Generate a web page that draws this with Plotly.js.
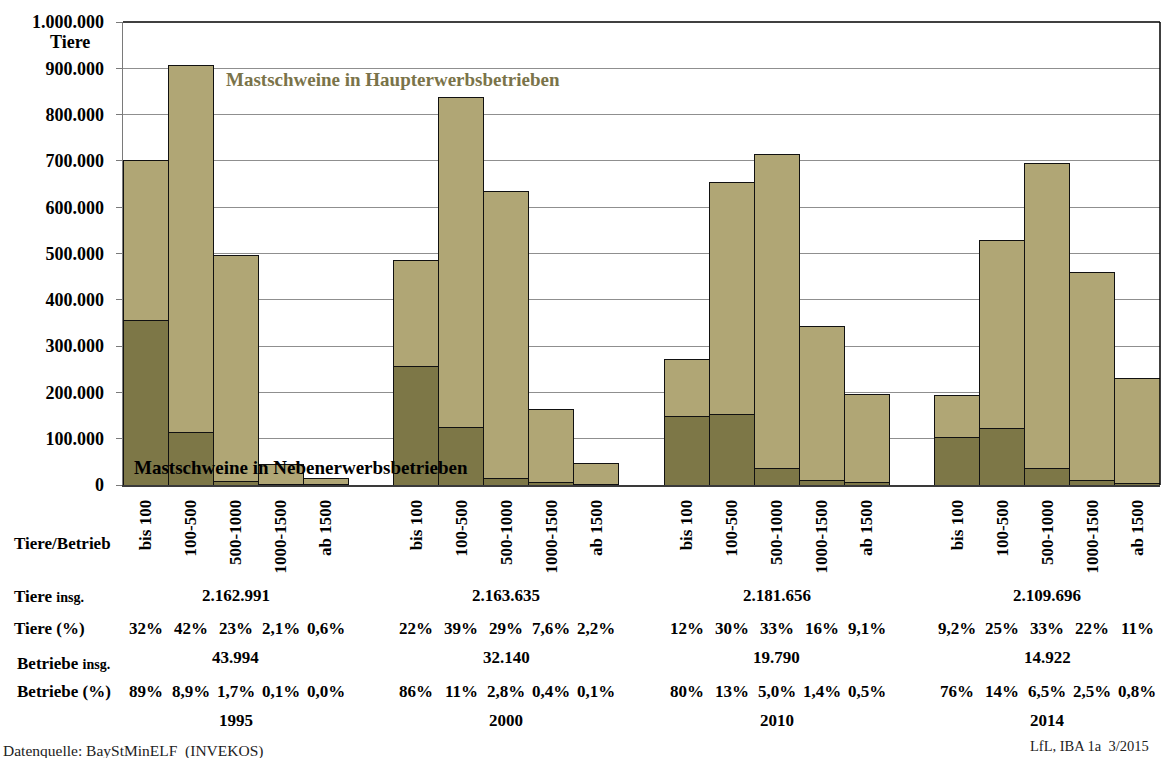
<!DOCTYPE html>
<html>
<head>
<meta charset="utf-8">
<script src="https://cdn.plot.ly/plotly-3.0.1.min.js"></script>
<style>
html,body{margin:0;padding:0;background:#fff;}
#chart{width:1164px;height:758px;}
</style>
</head>
<body>
<div id="chart"></div>
<script>
// ---- data ----
const years = ['1995', '2000', '2010', '2014'];
const categories = ['bis 100', '100-500', '500-1000', '1000-1500', 'ab 1500'];
// Mastschweine in Nebenerwerbsbetrieben (dark, bottom)
const neben1995 = [356000, 113000, 8600, 1000, 300];
const neben2000 = [257000, 124000, 13600, 5800, 1500];
const neben2010 = [147000, 153000, 36700, 10800, 5000];
const neben2014 = [102000, 123000, 36700, 10800, 2800];
// Mastschweine in Haupterwerbsbetrieben (light, top)
const haupt1995 = [344000, 793000, 487400, 44000, 13300];
const haupt2000 = [227000, 714000, 619400, 156200, 46000];
const haupt2010 = [123000, 501000, 676300, 332200, 191500];
const haupt2014 = [91700, 406000, 658300, 447800, 228200];
// table below chart
const tiereInsg = ['2.162.991', '2.163.635', '2.181.656', '2.109.696'];
const tierePct1995 = ['32%', '42%', '23%', '2,1%', '0,6%'];
const tierePct2000 = ['22%', '39%', '29%', '7,6%', '2,2%'];
const tierePct2010 = ['12%', '30%', '33%', '16%', '9,1%'];
const tierePct2014 = ['9,2%', '25%', '33%', '22%', '11%'];
const betriebeInsg = ['43.994', '32.140', '19.790', '14.922'];
const betriebePct1995 = ['89%', '8,9%', '1,7%', '0,1%', '0,0%'];
const betriebePct2000 = ['86%', '11%', '2,8%', '0,4%', '0,1%'];
const betriebePct2010 = ['80%', '13%', '5,0%', '1,4%', '0,5%'];
const betriebePct2014 = ['76%', '14%', '6,5%', '2,5%', '0,8%'];

const nebenAll = [neben1995, neben2000, neben2010, neben2014];
const hauptAll = [haupt1995, haupt2000, haupt2010, haupt2014];
const tierePctAll = [tierePct1995, tierePct2000, tierePct2010, tierePct2014];
const betriebePctAll = [betriebePct1995, betriebePct2000, betriebePct2010, betriebePct2014];

// ---- layout helpers ----
const W = 1164, H = 758;
const ML = 123, MR = 4, MT = 22, MB = 273;
const PW = W - ML - MR, PH = H - MT - MB;
const px = x => (x - ML) / PW;
const py = y => (H - MB - y) / PH;
const FONT = 'Liberation Serif, Times New Roman, serif';

const xs = [], yNeben = [], yHaupt = [], tickvals = [], ticktext = [];
years.forEach((yr, g) => {
  categories.forEach((c, i) => {
    const x = g * 6 + i;
    xs.push(x);
    yNeben.push(nebenAll[g][i]);
    yHaupt.push(hauptAll[g][i]);
    tickvals.push(x);
    ticktext.push(c);
  });
});

const light = '#B0A675', dark = '#7D7747';
const traces = [
  {type: 'bar', name: 'Mastschweine in Nebenerwerbsbetrieben', x: xs, y: yNeben,
   width: 1, marker: {color: dark, line: {color: '#111', width: 1}}, hoverinfo: 'skip'},
  {type: 'bar', name: 'Mastschweine in Haupterwerbsbetrieben', x: xs, y: yHaupt,
   width: 1, marker: {color: light, line: {color: '#111', width: 1}}, hoverinfo: 'skip'}
];

const ann = [];
function addPx(text, x, y, size, xanchor, opts) {
  ann.push(Object.assign({text: text, xref: 'paper', yref: 'paper', x: px(x), y: py(y),
    xanchor: xanchor || 'left', yanchor: 'middle', showarrow: false,
    font: {family: FONT, size: size, color: '#000'}}, opts || {}));
}
function addData(text, x, y, size) {
  ann.push({text: text, xref: 'x', yref: 'paper', x: x, y: py(y), xanchor: 'center', yanchor: 'middle',
    showarrow: false, font: {family: FONT, size: size, color: '#000'}});
}

addPx('<b>Tiere</b>', 70, 42, 18, 'center');
addPx('<b>Mastschweine in Haupterwerbsbetrieben</b>', 224, 80, 19, 'left', {font: {family: FONT, size: 19, color: '#7A7349'}});
addPx('<b>Mastschweine in Nebenerwerbsbetrieben</b>', 132, 467, 19, 'left');
addPx('<b>Tiere/Betrieb</b>', 12, 543, 17, 'left');
addPx('<b>Tiere <span style="font-size:14px">insg.</span></b>', 12, 596, 17, 'left');
addPx('<b>Tiere (%)</b>', 12, 628, 17, 'left');
addPx('<b>Betriebe <span style="font-size:14px">insg.</span></b>', 15, 663, 17, 'left');
addPx('<b>Betriebe (%)</b>', 15, 691, 17, 'left');
addPx('Datenquelle: BayStMinELF  (INVEKOS)', 1, 751, 15.5, 'left', {font: {family: FONT, size: 15.5, color: '#222'}});
addPx('LfL, IBA 1a  3/2015', 1151, 746, 14.5, 'right', {font: {family: FONT, size: 14.5, color: '#222'}});

years.forEach((yr, g) => {
  const c = g * 6 + 2;
  addData('<b>' + tiereInsg[g] + '</b>', c, 595, 17);
  addData('<b>' + betriebeInsg[g] + '</b>', c, 657, 17);
  addData('<b>' + yr + '</b>', c, 720, 17);
  categories.forEach((cat, i) => {
    addData('<b>' + tierePctAll[g][i] + '</b>', g * 6 + i, 628, 17);
    addData('<b>' + betriebePctAll[g][i] + '</b>', g * 6 + i, 691, 17);
  });
});

const layout = {
  width: W, height: H,
  margin: {l: ML, r: MR, t: MT, b: MB, pad: 0},
  paper_bgcolor: '#fff', plot_bgcolor: '#fff',
  barmode: 'stack', bargap: 0, showlegend: false,
  separators: ',.',
  font: {family: FONT, color: '#000'},
  xaxis: {range: [-0.5, 22.5], tickvals: tickvals, ticktext: ticktext, tickangle: -90,
    showgrid: false, zeroline: false, showline: true, linecolor: '#3a3a3a', linewidth: 2,
    ticks: '', ticklabelstandoff: 6,
    tickfont: {family: FONT, size: 17, color: '#000', weight: 'bold'}, fixedrange: true},
  yaxis: {range: [0, 1000000], dtick: 100000, tickformat: ',d',
    showgrid: true, gridcolor: '#8f8f8f', gridwidth: 1, zeroline: false,
    showline: true, linecolor: '#7a7a7a', linewidth: 1.5,
    ticks: 'outside', ticklen: 6, tickcolor: '#7a7a7a', ticklabelstandoff: 8,
    tickfont: {family: FONT, size: 18, color: '#000', weight: 'bold'}, fixedrange: true},
  shapes: [
    {type: 'line', xref: 'paper', yref: 'paper', x0: 0, x1: 1, y0: 1, y1: 1, line: {color: '#000', width: 1.5}},
    {type: 'line', xref: 'paper', yref: 'paper', x0: 1, x1: 1, y0: 0, y1: 1, line: {color: '#000', width: 1.5}}
  ],
  annotations: ann
};

Plotly.newPlot('chart', traces, layout, {displayModeBar: false, staticPlot: true});
</script>
</body>
</html>
